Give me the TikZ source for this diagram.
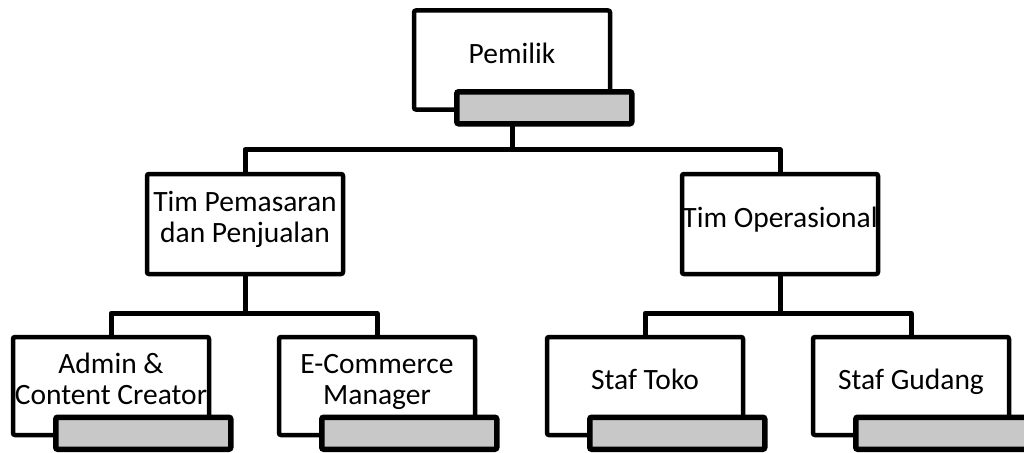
\documentclass[tikz,border=0pt]{standalone}
\usepackage{fontspec}
\setmainfont{Carlito}
\usetikzlibrary{positioning,calc,backgrounds}
\definecolor{barfill}{RGB}{200,200,200}
% text sits a little above the box centre
\newcommand{\unittext}[1]{\raisebox{3pt}[\height][\depth]{\begin{tabular}{@{}c@{}}#1\end{tabular}}}

\begin{document}
\begin{tikzpicture}[
  x=1pt, y=-1pt,
  every node/.style={font=\fontsize{29.5}{31}\selectfont},
  unit/.style={draw, line width=4.5pt, fill=white, rounded corners=2pt,
               minimum width=196pt, minimum height=99pt, inner sep=0pt},
  bar/.style={draw, line width=5.5pt, fill=barfill, rounded corners=2pt,
              minimum width=175pt, minimum height=32pt, inner sep=0pt},
  link/.style={line width=5pt, line join=round}
]
\useasboundingbox (0,0) rectangle (1024,452);

% Owner
\node[unit] (owner) at (512,60) {\unittext{Pemilik}};

% Teams
\node[unit, minimum height=100pt] (sales) at (245,224) {\unittext{Tim Pemasaran\\dan Penjualan}};
\node[unit, minimum height=100pt] (ops)   at (780,224) {\unittext{Tim Operasional}};

% Staff
\node[unit, minimum height=98pt] (admin)  at (111,386) {\unittext{Admin \&\\Content Creator}};
\node[unit, minimum height=98pt] (ecom)   at (377,386) {\unittext{E-Commerce\\Manager}};
\node[unit, minimum height=98pt] (toko)   at (645,386) {\unittext{Staf Toko}};
\node[unit, minimum height=98pt] (gudang) at (911,386) {\unittext{Staf Gudang}};

% Grey name bars
\foreach \n in {owner,admin,ecom,toko,gudang} {
  \node[bar] (\n bar) at ($(\n.south east)+(-68,-4)$) {};
}

% Connectors
\begin{scope}[on background layer]
  \draw[link] (owner.south) -- ++(0,38) coordinate (split) -| (sales.north);
  \draw[link] (split) -| (ops.north);
  \draw[link] (sales.south) -- ++(0,37) coordinate (salessplit) -| (admin.north);
  \draw[link] (salessplit) -| (ecom.north);
  \draw[link] (ops.south) -- ++(0,37) coordinate (opssplit) -| (toko.north);
  \draw[link] (opssplit) -| (gudang.north);
\end{scope}

\end{tikzpicture}
\end{document}
